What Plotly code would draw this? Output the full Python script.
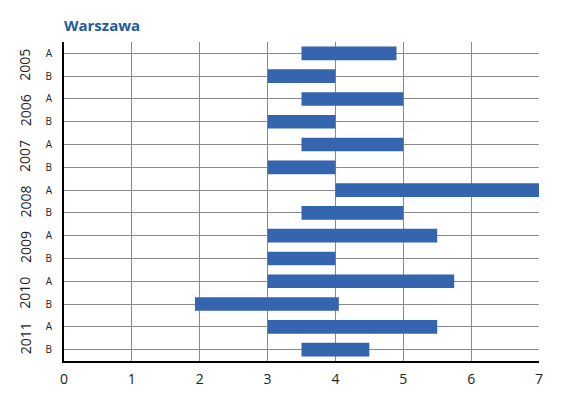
import plotly.graph_objects as go

years = ["2005", "2006", "2007", "2008", "2009", "2010", "2011"]
series = ["A", "B"]
starts = [3.5, 3.0, 3.5, 3.0, 3.5, 3.0, 4.0, 3.5, 3.0, 3.0, 3.0, 1.93, 3.0, 3.5]
ends = [4.9, 4.0, 5.0, 4.0, 5.0, 4.0, 7.0, 5.0, 5.5, 4.0, 5.75, 4.05, 5.5, 4.5]
x_ticks = [0, 1, 2, 3, 4, 5, 6, 7]

cats = [f"{y}-{s}" for y in years for s in series]
labels = [s for y in years for s in series]

# page body has an 8px margin; figure coordinates are screen minus 8
W, H = 553, 380

fig = go.Figure()
fig.add_trace(go.Bar(
    y=cats,
    x=[e - s for s, e in zip(starts, ends)],
    base=starts,
    orientation="h",
    marker=dict(color="#3465AE", line=dict(width=0)),
    hoverinfo="skip",
))

for i, y in enumerate(years):
    fig.add_annotation(
        x=0, xref="paper", xanchor="center", xshift=-39,
        y=2 * i + 0.5, yref="y", yanchor="middle",
        text=y, textangle=-90, showarrow=False,
        font=dict(size=14, color="#222222", family="Open Sans"),
    )

fig.update_layout(
    width=W, height=H,
    margin=dict(l=56, r=22, t=34, b=27),
    paper_bgcolor="white", plot_bgcolor="white",
    bargap=0.4,
    showlegend=False,
    title=dict(text="<b>Warszawa</b>", x=56 / W, xanchor="left", y=1 - 18 / H, yanchor="middle",
               font=dict(size=15, color="#1F5A9E", family="Open Sans")),
    font=dict(family="Open Sans", color="#222222"),
)
fig.update_xaxes(
    range=[0, 7], tickvals=x_ticks, ticktext=[str(v) for v in x_ticks],
    showgrid=True, gridcolor="#8a8a8a", gridwidth=1,
    showline=True, linecolor="#000000", linewidth=2,
    zeroline=False, ticks="", tickfont=dict(size=14, color="#222222"),
    ticklabelstandoff=4, automargin=False,
)
fig.update_yaxes(
    categoryorder="array", categoryarray=cats,
    tickvals=cats, ticktext=labels,
    range=[len(cats) - 0.5, -0.5],
    showgrid=True, gridcolor="#8a8a8a", gridwidth=1,
    showline=True, linecolor="#000000", linewidth=2,
    zeroline=False, ticks="", tickfont=dict(size=10, color="#222222"),
    ticklabelstandoff=8, automargin=False,
)

fig.write_html("out.html")
